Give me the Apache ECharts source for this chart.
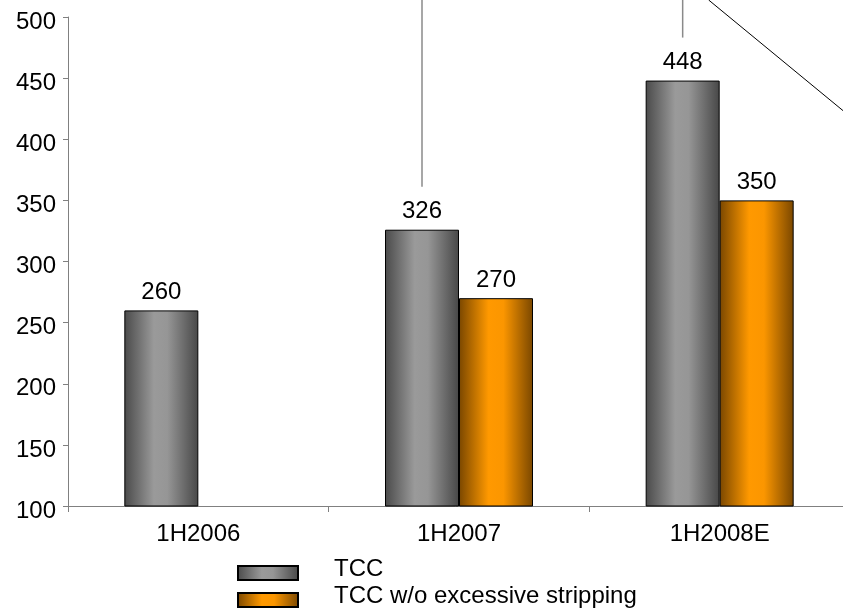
<!DOCTYPE html>
<html>
<head>
<meta charset="utf-8">
<script src="https://cdn.jsdelivr.net/npm/echarts@6/dist/echarts.min.js"></script>
<style>
  html, body { margin: 0; padding: 0; background: #ffffff; }
  #chart { width: 843px; height: 611px; }
</style>
</head>
<body>
<div id="chart"></div>
<script>
// Half-year periods on the category axis
const categories = ['1H2006', '1H2007', '1H2008E'];
// Total cash cost, with and without excessive stripping
const tcc = [260, 326, 448];
const tccNoStripping = [null, 270, 350];
const seriesNames = ['TCC', 'TCC w/o excessive stripping'];

const FONT = '"Liberation Sans", Arial, sans-serif';
const FONT_SIZE = 24;

// Cylinder-like horizontal shading for the bars
const grayFill = new echarts.graphic.LinearGradient(0, 0, 1, 0, [
  { offset: 0, color: '#4a4a4a' },
  { offset: 0.4, color: '#9a9a9a' },
  { offset: 0.58, color: '#969696' },
  { offset: 1, color: '#474747' }
]);
const orangeFill = new echarts.graphic.LinearGradient(0, 0, 1, 0, [
  { offset: 0, color: '#7a4700' },
  { offset: 0.4, color: '#ff9900' },
  { offset: 0.6, color: '#fb9600' },
  { offset: 1, color: '#7a4700' }
]);

const chart = echarts.init(document.getElementById('chart'), null, { renderer: 'canvas' });

const labelStyle = {
  show: true,
  position: 'top',
  distance: 6,
  color: '#000',
  fontSize: FONT_SIZE,
  fontFamily: FONT
};

// One stacked legend row per series; the trailing blank line lifts the
// text slightly above the swatch centre
function legendRow(name, top) {
  return {
    orient: 'horizontal',
    left: 237,
    top: top,
    itemWidth: 60,
    itemHeight: 14,
    padding: 0,
    icon: 'rect',
    formatter: function (n) { return n + '\n'; },
    textStyle: {
      fontSize: FONT_SIZE, fontFamily: FONT, color: '#000',
      lineHeight: 8,
      padding: [0, 0, 0, 31]
    },
    data: [name]
  };
}

chart.setOption({
  animation: false,
  backgroundColor: '#ffffff',
  grid: {
    left: 68, top: 17, width: 782, height: 489,
    containLabel: false,
    outerBoundsMode: 'none'
  },
  legend: [legendRow(seriesNames[0], 557), legendRow(seriesNames[1], 584)],
  xAxis: {
    type: 'category',
    data: categories,
    axisLine: { lineStyle: { color: '#808080', width: 1 } },
    axisTick: { show: true, length: 6, lineStyle: { color: '#808080' } },
    axisLabel: { color: '#000', fontSize: FONT_SIZE, fontFamily: FONT, margin: 16 }
  },
  yAxis: {
    type: 'value',
    min: 100,
    max: 500,
    interval: 50,
    splitLine: { show: false },
    axisLine: { show: true, lineStyle: { color: '#808080', width: 1 } },
    axisTick: { show: true, length: 5, lineStyle: { color: '#808080' } },
    axisLabel: {
      color: '#000', fontSize: FONT_SIZE, fontFamily: FONT, margin: 12,
      verticalAlign: 'top', lineHeight: 10
    }
  },
  series: [
    {
      name: seriesNames[0],
      type: 'bar',
      data: tcc,
      barWidth: 74,
      barGap: '0%',
      itemStyle: { color: grayFill, borderColor: '#000', borderWidth: 1 },
      label: labelStyle
    },
    {
      name: seriesNames[1],
      type: 'bar',
      data: tccNoStripping,
      barWidth: 74,
      itemStyle: { color: orangeFill, borderColor: '#000', borderWidth: 1 },
      label: labelStyle
    }
  ]
});

// Callout leader lines rising from above the TCC bars of 1H2007 and 1H2008E
const tccData = chart.getModel().getSeriesByIndex(0).getData();
const leaders = [1, 2].map(function (i) {
  const r = tccData.getItemLayout(i);
  const cx = r.x + r.width / 2;
  const top = Math.min(r.y, r.y + r.height);
  return {
    type: 'line',
    shape: { x1: cx, y1: 0, x2: cx, y2: top - 43 },
    style: { stroke: '#8a8a8a', lineWidth: 1.5 },
    silent: true
  };
});
const last = tccData.getItemLayout(2);
leaders.push({
  type: 'line',
  shape: { x1: last.x + last.width - 11, y1: 0, x2: last.x + last.width + 125, y2: 112 },
  style: { stroke: '#000', lineWidth: 1 },
  silent: true
});
chart.setOption({ graphic: leaders });
</script>
</body>
</html>
